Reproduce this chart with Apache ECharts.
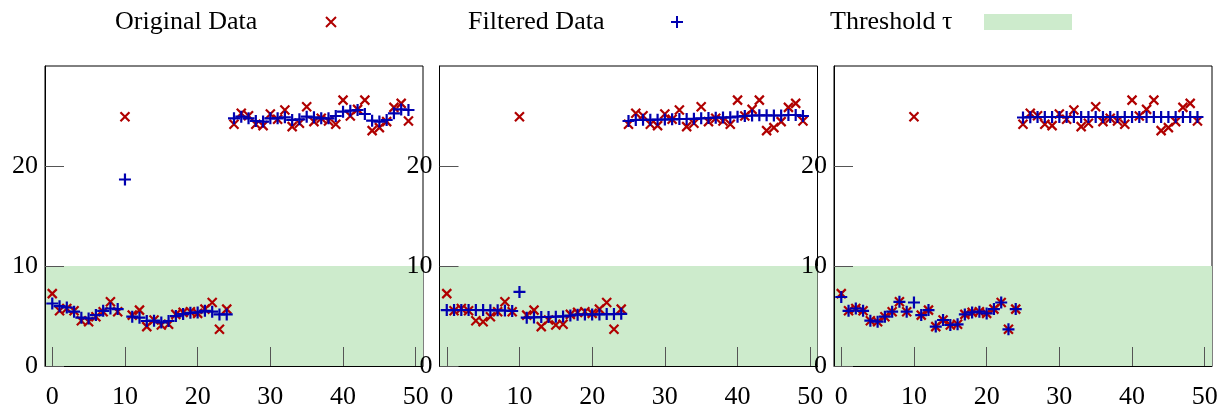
<!DOCTYPE html>
<html>
<head>
<meta charset="utf-8">
<script src="https://cdn.jsdelivr.net/npm/echarts@6/dist/echarts.min.js"></script>
<style>
html, body { margin: 0; padding: 0; background: #fff; }
#chart { width: 1224px; height: 410px; }
</style>
</head>
<body>
<div id="chart"></div>
<script>
// sample index
const samples = [0,1,2,3,4,5,6,7,8,9,10,11,12,13,14,15,16,17,18,19,20,21,22,23,24,
  25,26,27,28,29,30,31,32,33,34,35,36,37,38,39,40,41,42,43,44,45,46,47,48,49]

// raw signal (same in all three panels)
const original = [7.24,5.52,5.75,5.52,4.53,4.43,4.93,5.43,6.42,5.43,24.93,5.09,5.59,3.94,4.6,4.1,4.17,5.16,5.36,5.43,5.26,5.69,6.35,3.67,5.69,
  24.18,25.27,25.03,24.18,24.04,25.2,24.67,25.6,23.94,24.27,25.92,24.44,24.77,24.5,24.18,26.59,25.0,25.66,26.59,23.54,23.84,24.44,25.86,26.26,24.5]

// filtered output, one per panel
const filtered1 = [6.25,5.98,5.85,5.43,4.83,4.76,5.09,5.52,5.75,5.69,18.65,4.93,4.83,4.5,4.53,4.36,4.5,4.99,5.19,5.32,5.36,5.52,5.43,5.16,5.16,
  24.77,24.93,24.77,24.5,24.44,24.77,24.77,24.87,24.6,24.67,24.93,24.87,24.77,24.77,25.0,25.43,25.53,25.6,25.2,24.53,24.44,24.6,25.27,25.66,25.6]
const filtered2 = [5.59,5.59,5.6,5.6,5.6,5.59,5.58,5.57,5.55,5.5,7.41,4.83,4.86,4.9,4.9,4.93,4.96,5.05,5.13,5.16,5.16,5.16,5.19,5.19,5.22,
  24.5,24.6,24.62,24.62,24.63,24.65,24.67,24.7,24.7,24.72,24.77,24.8,24.83,24.85,24.87,24.93,25.0,25.05,25.07,25.07,25.05,25.05,25.1,25.1,25.0]
const filtered3 = [6.9,5.52,5.75,5.52,4.53,4.43,4.93,5.43,6.42,5.43,6.35,5.09,5.59,3.94,4.6,4.1,4.17,5.16,5.36,5.43,5.26,5.69,6.35,3.67,5.69,
  24.85,24.88,24.9,24.9,24.9,24.9,24.9,24.9,24.9,24.9,24.9,24.9,24.9,24.9,24.9,24.9,24.9,24.9,24.9,24.9,24.9,24.9,24.9,24.9,24.9]

const threshold = 10
const xTicks = [0, 10, 20, 30, 40, 50]
const yTicks = [0, 10, 20]

const font = 'Liberation Serif'
const red = '#b00000'
const blue = '#0000b0'
const green = '#cdebcc'
const crossPath = 'path://M0,0L10,10M10,0L0,10'
const plusPath = 'path://M5,0L5,10M0,5L10,5'

const filteredSets = [filtered1, filtered2, filtered3]
const gridLefts = [45, 439.5, 834]

const pair = (ys) => samples.map((x, i) => [x, ys[i]])

const grids = gridLefts.map(l => ({
  left: l, top: 66, width: 378, height: 302,
  show: true, borderColor: '#000', borderWidth: 1, backgroundColor: 'transparent'
}))

const xAxes = gridLefts.map((l, i) => ({
  gridIndex: i, type: 'value', min: -1, max: 51, z: 10,
  axisLine: { show: true, onZero: false, lineStyle: { color: '#000', width: 1 } },
  axisTick: { show: true, inside: true, length: 19, customValues: xTicks, lineStyle: { color: '#555', width: 1 } },
  axisLabel: { customValues: xTicks, margin: 18, fontFamily: font, fontSize: 26, color: '#000' },
  splitLine: { show: false }
}))

const yAxes = gridLefts.map((l, i) => ({
  gridIndex: i, type: 'value', min: 0, max: 30, z: 10,
  axisLine: { show: true, onZero: false, lineStyle: { color: '#000', width: 1 } },
  axisTick: { show: true, inside: true, length: 19, customValues: yTicks, lineStyle: { color: '#555', width: 1 } },
  axisLabel: { customValues: yTicks, margin: 7, fontFamily: font, fontSize: 26, color: '#000' },
  splitLine: { show: false }
}))

const series = []
gridLefts.forEach((l, i) => {
  series.push({
    name: 'Threshold τ', type: 'line', xAxisIndex: i, yAxisIndex: i, data: [], z: -1,
    itemStyle: { color: green }, lineStyle: { color: green },
    markArea: {
      silent: true,
      itemStyle: { color: green, opacity: 1 },
      data: [[{ yAxis: 0 }, { yAxis: threshold }]]
    }
  })
  series.push({
    name: 'Original Data', type: 'scatter', xAxisIndex: i, yAxisIndex: i, z: 3,
    symbol: crossPath, symbolSize: 9,
    itemStyle: { color: red, borderColor: red, borderWidth: 2.2, opacity: 1 },
    data: pair(original)
  })
  series.push({
    name: 'Filtered Data', type: 'scatter', xAxisIndex: i, yAxisIndex: i, z: 4,
    symbol: plusPath, symbolSize: 12,
    itemStyle: { color: blue, borderColor: blue, borderWidth: 2.2, opacity: 1 },
    data: pair(filteredSets[i])
  })
})

const legendItem = (name, left, width, iw, ih, icon) => ({
  left: left, top: 9, padding: 0, align: 'right', itemWidth: iw, itemHeight: ih, itemGap: 0,
  selectedMode: false,
  data: [{ name: name, icon: icon }],
  formatter: n => '{t|' + n + '}',
  textStyle: {
    rich: { t: { width: width, fontFamily: font, fontSize: 26, color: '#000', align: 'left' } }
  }
})

const chart = echarts.init(document.getElementById('chart'))
chart.setOption({
  animation: false,
  legend: [
    legendItem('Original Data', 115, 206, 10, 10, crossPath),
    legendItem('Filtered Data', 468, 198, 12, 12, plusPath),
    legendItem('Threshold τ', 830, 149, 88, 16, 'rect')
  ],
  grid: grids,
  xAxis: xAxes,
  yAxis: yAxes,
  series: series
})
</script>
</body>
</html>
